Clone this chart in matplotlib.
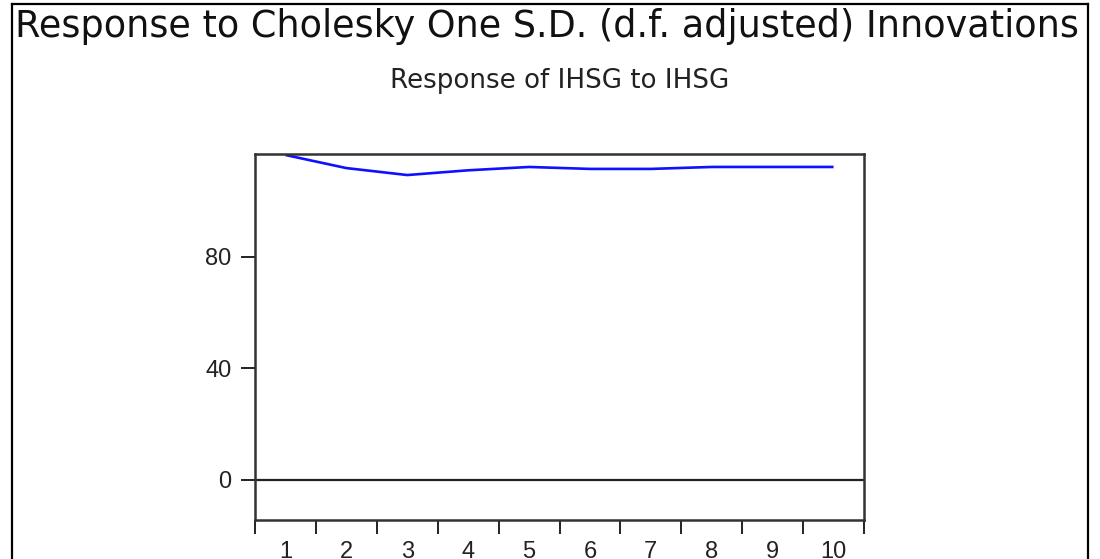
import matplotlib
matplotlib.use("Agg")
import matplotlib.pyplot as plt

# Data
periods = [1, 2, 3, 4, 5, 6, 7, 8, 9, 10]
response = [116.6, 111.9, 109.4, 111.1, 112.3, 111.6, 111.6, 112.3, 112.3, 112.3]
ytick_vals = [0, 40, 80]
xtick_labels = [str(p) for p in periods]
main_title = "Response to Cholesky One S.D. (d.f. adjusted) Innovations"
sub_title = "Response of IHSG to IHSG"

W, H = 1100, 559
fig = plt.figure(figsize=(W / 100, H / 100), dpi=100)
fig.patch.set_facecolor("white")

def fx(px):
    return px / W

def fy(py):
    return 1 - py / H

# outer frame (left, top, right)
fig.add_artist(plt.Line2D([fx(12), fx(12)], [fy(4), fy(H + 5)], color="black", lw=1.6))
fig.add_artist(plt.Line2D([fx(12), fx(1088)], [fy(4), fy(4)], color="black", lw=1.6))
fig.add_artist(plt.Line2D([fx(1088), fx(1088)], [fy(4), fy(H + 5)], color="black", lw=1.6))

fig.text(fx(15), fy(37), main_title, fontsize=26.4, family="DejaVu Sans",
         ha="left", va="baseline", color="#111111")

ax_l, ax_r, ax_t, ax_b = 255, 864, 154, 520
ax = fig.add_axes([fx(ax_l), fy(ax_b), fx(ax_r - ax_l), (ax_b - ax_t) / H])

fig.text(fx((ax_l + ax_r) / 2), fy(88), sub_title, fontsize=18.8, family="DejaVu Sans",
         ha="center", va="baseline", color="#222222")

ax.plot(periods, response, color="#1010ff", lw=1.9, solid_capstyle="butt")
ax.axhline(0, color="#222222", lw=1.6)

ax.set_xlim(0.5, 10.5)
ax.set_ylim(-14.35, 116.95)

ax.set_yticks(ytick_vals)
ax.set_yticklabels([str(v) for v in ytick_vals], family="Liberation Sans", fontsize=17, color="#222222")
ax.tick_params(axis="y", direction="out", length=10, width=1.4, pad=7, colors="#222222")

ax.set_xticks([p - 0.5 for p in periods] + [10.5])
ax.set_xticklabels([])
ax.set_xticks(periods, minor=True)
ax.set_xticklabels(xtick_labels, minor=True, family="Liberation Sans", fontsize=17, color="#222222")
ax.tick_params(axis="x", which="major", direction="out", length=10, width=1.4, colors="#222222")
ax.tick_params(axis="x", which="minor", length=0, pad=15)

for s in ax.spines.values():
    s.set_linewidth(1.8)
    s.set_color("#333333")

fig.savefig("out.png", dpi=100, facecolor="white")
